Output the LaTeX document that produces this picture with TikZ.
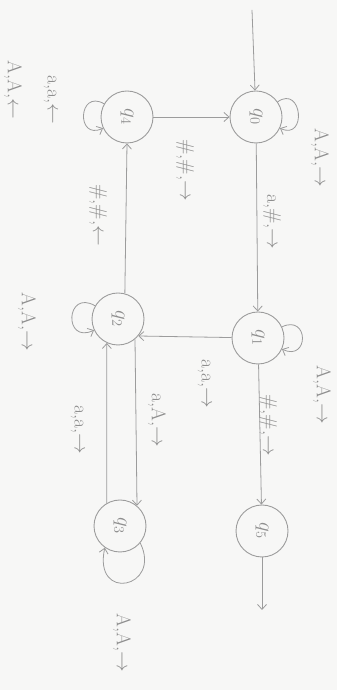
\documentclass[tikz,border=0pt]{standalone}
\usetikzlibrary{arrows.meta}
\definecolor{pencil}{HTML}{9C9C9C}
\definecolor{pencilText}{HTML}{8E8E8E}
\definecolor{paper}{HTML}{F7F7F6}
\newcommand{\sideways}[1]{\rotatebox{-90}{#1}}
\begin{document}
\begin{tikzpicture}[x=1pt,y=1pt,
  state/.style={circle,draw=pencil,line width=0.9pt,minimum size=52pt,inner sep=0pt,
                text=pencilText,font=\fontsize{20}{20}\selectfont},
  lbl/.style={text=pencilText,font=\fontsize{20}{20}\selectfont,rotate=-90,inner sep=1pt},
  trans/.style={draw=pencil,line width=0.8pt,-{Straight Barb[length=5pt,width=9pt]}}]
  % paper
  \fill[paper] (0,0) rectangle (337,690);
  \useasboundingbox (0,0) rectangle (337,690);

  % states
  \node[state] (q0) at (256,573) {\sideways{$q_0$}};
  \node[state] (q4) at (127,573) {\sideways{$q_4$}};
  \node[state] (q1) at (258,352) {\sideways{$q_1$}};
  \node[state] (q2) at (118,371) {\sideways{$q_2$}};
  \node[state] (q3) at (120,164) {\sideways{$q_3$}};
  \node[state] (q5) at (262,159) {\sideways{$q_5$}};

  \coordinate (start) at (252,680);
  \coordinate (exit) at (262,80);

  % transitions
  \draw[trans] (start) -- (q0);
  \draw[trans] (q4) -- (q0);
  \draw[trans] (q0) -- (q1);
  \draw[trans] (q2.75) -- (q4.south);
  \draw[trans] (q1) -- (q2.-40);
  \draw[trans] (q2.-50) -- (q3.50);
  \draw[trans] (q3.120) -- (q2.-115);
  \draw[trans] (q1) -- (q5);
  \draw[trans] (q5) -- (exit);

  % self loops
  \draw[trans] (q0) to[out=35,in=-25,distance=30pt] (q0);
  \draw[trans] (q4) to[out=150,in=205,distance=30pt] (q4);
  \draw[trans] (q1) to[out=25,in=-25,distance=30pt] (q1);
  \draw[trans] (q2) to[out=150,in=205,distance=34pt] (q2);
  \draw[trans] (q3.-40) .. controls +(22,-45) and +(-12,-55) .. (q3.-125);

  % labels
  \node[lbl] (l0) at (320,532) {A,A,$\rightarrow$};
  \node[lbl] (l1) at (185,520) {\#,\#,$\rightarrow$};
  \node[lbl] (l2) at (272,468) {a,\#,$\rightarrow$};
  \node[lbl] (l3) at (50,590) {a,a,$\leftarrow$};
  \node[lbl] (l4) at (13,600) {A,A,$\leftarrow$};
  \node[lbl] (l5) at (98,475) {\#,\#,$\leftarrow$};
  \node[lbl] (l6) at (322,295) {A,A,$\rightarrow$};
  \node[lbl] (l7) at (204,306) {a,a,$\rightarrow$};
  \node[lbl] (l8) at (27,368) {A,A,$\rightarrow$};
  \node[lbl] (l9) at (157,270) {a,A,$\rightarrow$};
  \node[lbl] (l10) at (77,260) {a,a,$\rightarrow$};
  \node[lbl] (l11) at (268,265) {\#,\#,$\rightarrow$};
  \node[lbl] (l12) at (122,47) {A,A,$\rightarrow$};
\end{tikzpicture}
\end{document}
